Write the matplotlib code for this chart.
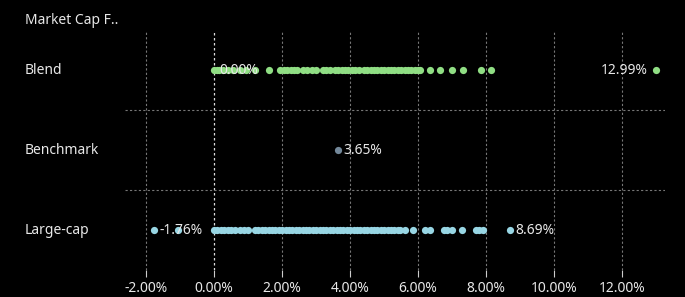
import matplotlib
matplotlib.use("Agg")
import matplotlib.pyplot as plt
from matplotlib.ticker import FuncFormatter

categories = ["Blend", "Benchmark", "Large-cap"]
blend = [0.00, 0.08, 0.15, 0.25, 0.40, 0.55, 0.75, 0.95, 1.20, 1.62, 1.95, 2.05, 2.15,
         2.25, 2.35, 2.45, 2.60, 2.72, 2.88, 3.00, 3.20, 3.30, 3.42, 3.55, 3.65, 3.75,
         3.85, 3.95, 4.05, 4.15, 4.25, 4.40, 4.50, 4.60, 4.70, 4.80, 4.90, 5.00, 5.10,
         5.20, 5.30, 5.40, 5.50, 5.60, 5.70, 5.80, 5.90, 6.00, 6.06, 6.35, 6.65, 7.00,
         7.32, 7.85, 8.15, 12.99]
benchmark = [3.65]
large_cap = [-1.76, -1.06, 0.00, 0.10, 0.20, 0.30, 0.40, 0.50, 0.62, 0.75, 0.88, 1.00,
             1.20, 1.30, 1.40, 1.50, 1.60, 1.70, 1.80, 1.90, 2.00, 2.10, 2.20, 2.30,
             2.40, 2.50, 2.60, 2.70, 2.80, 2.90, 3.00, 3.10, 3.20, 3.30, 3.40, 3.50,
             3.60, 3.70, 3.80, 3.90, 4.00, 4.10, 4.20, 4.30, 4.40, 4.50, 4.60, 4.70,
             4.80, 4.90, 5.00, 5.10, 5.20, 5.30, 5.40, 5.47, 5.60, 5.85, 6.20, 6.35,
             6.75, 6.85, 7.00, 7.30, 7.70, 7.80, 7.90, 8.69]
xticks = [-2, 0, 2, 4, 6, 8, 10, 12]
title = "Market Cap F.."

series = [blend, benchmark, large_cap]
colors = ["#90de84", "#73889a", "#98d6e4"]

plt.rcParams['font.family'] = ['Noto Sans', 'DejaVu Sans']
txt = "#e8e8e8"
fs = 10

fig = plt.figure(figsize=(6.85, 2.97), dpi=100, facecolor="black")
ax = fig.add_axes([125/685, 1-270/297, 540/685, 240/297], facecolor="black")

for i, (vals, c) in enumerate(zip(series, colors)):
    ax.scatter(vals, [i]*len(vals), s=27, color=c, zorder=3, linewidths=0)
    lo, hi = min(vals), max(vals)
    ax.annotate(f"{lo:.2f}%", (lo, i), xytext=(4, 0), textcoords="offset points",
                va="center", ha="left", color=txt, fontsize=fs, zorder=4)
    if hi != lo:
        if hi > 12:
            ax.annotate(f"{hi:.2f}%", (hi, i), xytext=(-6, 0), textcoords="offset points",
                        va="center", ha="right", color=txt, fontsize=fs, zorder=4)
        else:
            ax.annotate(f"{hi:.2f}%", (hi, i), xytext=(4, 0), textcoords="offset points",
                        va="center", ha="left", color=txt, fontsize=fs, zorder=4)

ax.set_xlim(-2.62, 13.26)
ax.set_ylim(2.5, -0.5)
ax.set_xticks(xticks)
ax.xaxis.set_major_formatter(FuncFormatter(lambda v, p: f"{v:.2f}%"))
ax.tick_params(axis="x", colors="#cccccc", labelcolor=txt, labelsize=fs, length=5, width=0.8, direction="out", pad=3)
ax.set_yticks([])
for s in ax.spines.values():
    s.set_visible(False)

for t in xticks:
    if t == 0:
        ax.axvline(t, color="#dddddd", lw=0.9, ls=(0, (2, 2)), zorder=1)
    else:
        ax.axvline(t, color="#777777", lw=0.8, ls=(0, (2, 2)), zorder=1)
for y in [0.5, 1.5]:
    ax.axhline(y, color="#777777", lw=0.8, ls=(0, (2, 2)), zorder=1)

for i, cat in enumerate(categories):
    fig.text(25/685, 1-(70+80*i)/297, cat, color=txt, fontsize=fs, va="center", ha="left")
fig.text(25/685, 1-20/297, title, color=txt, fontsize=fs, va="center", ha="left")

fig.savefig("out.png", dpi=100, facecolor="black")
